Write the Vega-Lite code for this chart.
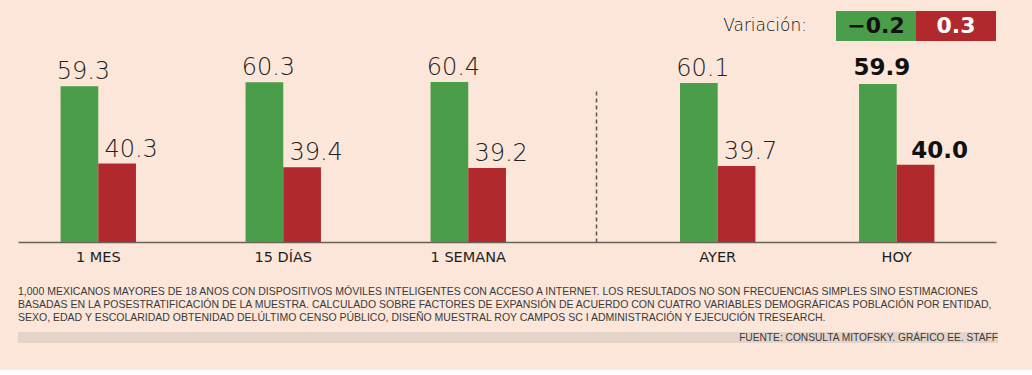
{
  "$schema": "https://vega.github.io/schema/vega-lite/v6.json",
  "background": "#fbe6d9",
  "padding": {"left": 18, "top": 11, "right": 34, "bottom": 27},
  "config": {"view": {"stroke": null}, "font": "DejaVu Sans"},
  "datasets": {
    "barras": [
      {"periodo": "1 MES", "serie": "Aprueba", "valor": 59.3},
      {"periodo": "1 MES", "serie": "Desaprueba", "valor": 40.3},
      {"periodo": "15 DÍAS", "serie": "Aprueba", "valor": 60.3},
      {"periodo": "15 DÍAS", "serie": "Desaprueba", "valor": 39.4},
      {"periodo": "1 SEMANA", "serie": "Aprueba", "valor": 60.4},
      {"periodo": "1 SEMANA", "serie": "Desaprueba", "valor": 39.2},
      {"periodo": "AYER", "serie": "Aprueba", "valor": 60.1},
      {"periodo": "AYER", "serie": "Desaprueba", "valor": 39.7},
      {"periodo": "HOY", "serie": "Aprueba", "valor": 59.9},
      {"periodo": "HOY", "serie": "Desaprueba", "valor": 40.0}
    ],
    "variacion": [
      {"serie": "Aprueba", "variacion": -0.2},
      {"serie": "Desaprueba", "variacion": 0.3}
    ]
  },
  "spacing": 9,
  "vconcat": [
    {
      "spacing": 0,
      "title": {
        "text": [
          "1,000 MEXICANOS MAYORES DE 18 ANOS CON DISPOSITIVOS MÓVILES INTELIGENTES CON ACCESO A INTERNET. LOS RESULTADOS NO SON FRECUENCIAS SIMPLES SINO ESTIMACIONES",
          "BASADAS EN LA POSESTRATIFICACIÓN DE LA MUESTRA. CALCULADO SOBRE FACTORES DE EXPANSIÓN DE ACUERDO CON CUATRO VARIABLES DEMOGRÁFICAS POBLACIÓN POR ENTIDAD,",
          "SEXO, EDAD Y ESCOLARIDAD OBTENIDAD DELÚLTIMO CENSO PÚBLICO, DISEÑO MUESTRAL ROY CAMPOS SC I ADMINISTRACIÓN Y EJECUCIÓN TRESEARCH."
        ],
        "orient": "bottom", "anchor": "start", "offset": 23,
        "font": "Liberation Sans", "fontSize": 10.5, "fontWeight": "normal", "color": "#3a3a3a", "lineHeight": 13
      },
      "hconcat": [
        {
          "width": 578,
          "height": 231,
          "data": {"name": "barras"},
          "transform": [{"filter": {"field": "periodo", "oneOf": ["1 MES", "15 DÍAS", "1 SEMANA"]}}],
          "encoding": {
            "x": {"field": "periodo", "type": "nominal", "sort": null,
              "scale": {"domain": ["1 MES", "15 DÍAS", "1 SEMANA"], "paddingInner": 0.5924, "paddingOuter": 0.3584, "align": 0.321},
              "axis": {"title": null, "ticks": false, "domainColor": "#6b625c", "domainWidth": 1.5, "labelFont": "DejaVu Sans", "labelFontWeight": "normal", "labelFontSize": 14.5, "labelColor": "#1e1e1e", "labelPadding": 8, "labelAngle": 0}},
            "xOffset": {"field": "serie", "type": "nominal", "scale": {"domain": ["Aprueba", "Desaprueba"], "paddingInner": 0, "paddingOuter": 0}},
            "y": {"field": "valor", "type": "quantitative", "scale": {"domain": [21, 77.85], "zero": false, "nice": false}, "axis": null}
          },
          "layer": [
            {
              "mark": {"type": "bar"},
              "encoding": {
                "y2": {"datum": 21},
                "color": {"field": "serie", "type": "nominal", "scale": {"domain": ["Aprueba", "Desaprueba"], "range": ["#4b9e49", "#b2292d"]}, "legend": null}
              }
            },
            {
              "transform": [{"filter": "datum.serie === 'Aprueba'"}],
              "mark": {"type": "text", "baseline": "alphabetic", "dy": -7, "dx": 4, "fontSize": 24, "fontWeight": 200, "color": "#222222"},
              "encoding": {"text": {"field": "valor", "type": "quantitative", "format": ".1f"}}
            },
            {
              "transform": [{"filter": "datum.serie === 'Desaprueba'"}],
              "mark": {"type": "text", "baseline": "alphabetic", "dy": -7, "dx": 14, "fontSize": 24, "fontWeight": 200, "color": "#222222"},
              "encoding": {"text": {"field": "valor", "type": "quantitative", "format": ".1f"}}
            }
          ]
        },
        {
          "spacing": 47,
          "bounds": "flush",
          "vconcat": [
            {
              "width": 400,
              "height": 30,
              "data": {"name": "variacion"},
              "encoding": {
                "x": {"field": "serie", "type": "nominal", "scale": {"domain": ["Variación:", "Aprueba", "Desaprueba"], "paddingInner": 0, "paddingOuter": 1, "align": 1}, "axis": null}
              },
              "layer": [
                {
                  "mark": {"type": "rect"},
                  "encoding": {
                    "color": {"field": "serie", "type": "nominal", "scale": {"domain": ["Aprueba", "Desaprueba"], "range": ["#4b9e49", "#b2292d"]}, "legend": null}
                  }
                },
                {
                  "mark": {"type": "text", "font": "DejaVu Sans", "fontWeight": "bold", "fontSize": 22},
                  "encoding": {
                    "text": {"field": "variacion", "type": "quantitative", "format": ".1f"},
                    "color": {"condition": {"test": "datum.serie === 'Aprueba'", "value": "#111111"}, "value": "#ffffff"}
                  }
                },
                {
                  "data": {"values": [{}]},
                  "mark": {"type": "text", "text": "Variación:", "align": "right", "dx": -29, "fontSize": 17, "fontWeight": 200, "color": "#111111"},
                  "encoding": {"x": {"datum": "Variación:", "type": "nominal", "bandPosition": 1}}
                }
              ]
            },
            {
              "width": 400,
              "height": 154,
              "data": {"name": "barras"},
              "transform": [{"filter": {"field": "periodo", "oneOf": ["AYER", "HOY"]}}],
              "encoding": {
                "x": {"field": "periodo", "type": "nominal", "sort": null,
                  "scale": {"domain": ["AYER", "HOY"], "paddingInner": 0.5788, "paddingOuter": 0.4067, "align": 0.577},
                  "axis": {"title": null, "ticks": false, "domainColor": "#6b625c", "domainWidth": 1.5, "labelFont": "DejaVu Sans", "labelFontWeight": "normal", "labelFontSize": 14.5, "labelColor": "#1e1e1e", "labelPadding": 8, "labelAngle": 0}},
                "xOffset": {"field": "serie", "type": "nominal", "scale": {"domain": ["Aprueba", "Desaprueba"], "paddingInner": 0, "paddingOuter": 0}},
                "y": {"field": "valor", "type": "quantitative", "scale": {"domain": [21, 58.9], "zero": false, "nice": false},
                  "axis": {"title": null, "labels": false, "ticks": false, "grid": false, "domainDash": [4, 3], "domainColor": "#555555", "domainWidth": 1.5}}
              },
              "layer": [
                {
                  "mark": {"type": "bar"},
                  "encoding": {
                    "y2": {"datum": 21},
                    "color": {"field": "serie", "type": "nominal", "scale": {"domain": ["Aprueba", "Desaprueba"], "range": ["#4b9e49", "#b2292d"]}, "legend": null}
                  }
                },
                {
                  "transform": [{"filter": "datum.serie === 'Aprueba' && datum.periodo !== 'HOY'"}],
                  "mark": {"type": "text", "baseline": "alphabetic", "dy": -7, "dx": 4, "fontSize": 24, "fontWeight": 200, "color": "#222222"},
                  "encoding": {"text": {"field": "valor", "type": "quantitative", "format": ".1f"}}
                },
                {
                  "transform": [{"filter": "datum.serie === 'Desaprueba' && datum.periodo !== 'HOY'"}],
                  "mark": {"type": "text", "baseline": "alphabetic", "dy": -7, "dx": 14, "fontSize": 24, "fontWeight": 200, "color": "#222222"},
                  "encoding": {"text": {"field": "valor", "type": "quantitative", "format": ".1f"}}
                },
                {
                  "transform": [{"filter": "datum.serie === 'Aprueba' && datum.periodo === 'HOY'"}],
                  "mark": {"type": "text", "baseline": "alphabetic", "dy": -9, "dx": 4, "fontSize": 23, "fontWeight": "bold", "color": "#111111"},
                  "encoding": {"text": {"field": "valor", "type": "quantitative", "format": ".1f"}}
                },
                {
                  "transform": [{"filter": "datum.serie === 'Desaprueba' && datum.periodo === 'HOY'"}],
                  "mark": {"type": "text", "baseline": "alphabetic", "dy": -7, "dx": 24, "fontSize": 23, "fontWeight": "bold", "color": "#111111"},
                  "encoding": {"text": {"field": "valor", "type": "quantitative", "format": ".1f"}}
                }
              ]
            }
          ]
        }
      ]
    },
    {
      "width": 980,
      "height": 11,
      "data": {"values": [{}]},
      "mark": {"type": "rect", "color": "#e4d3c8"},
      "encoding": {},
      "title": {"text": "FUENTE: CONSULTA MITOFSKY. GRÁFICO EE. STAFF", "orient": "bottom", "anchor": "end", "offset": -5.5, "baseline": "middle", "font": "Liberation Sans", "fontSize": 10.2, "fontWeight": "normal", "color": "#3a3a3a"}
    }
  ]
}
